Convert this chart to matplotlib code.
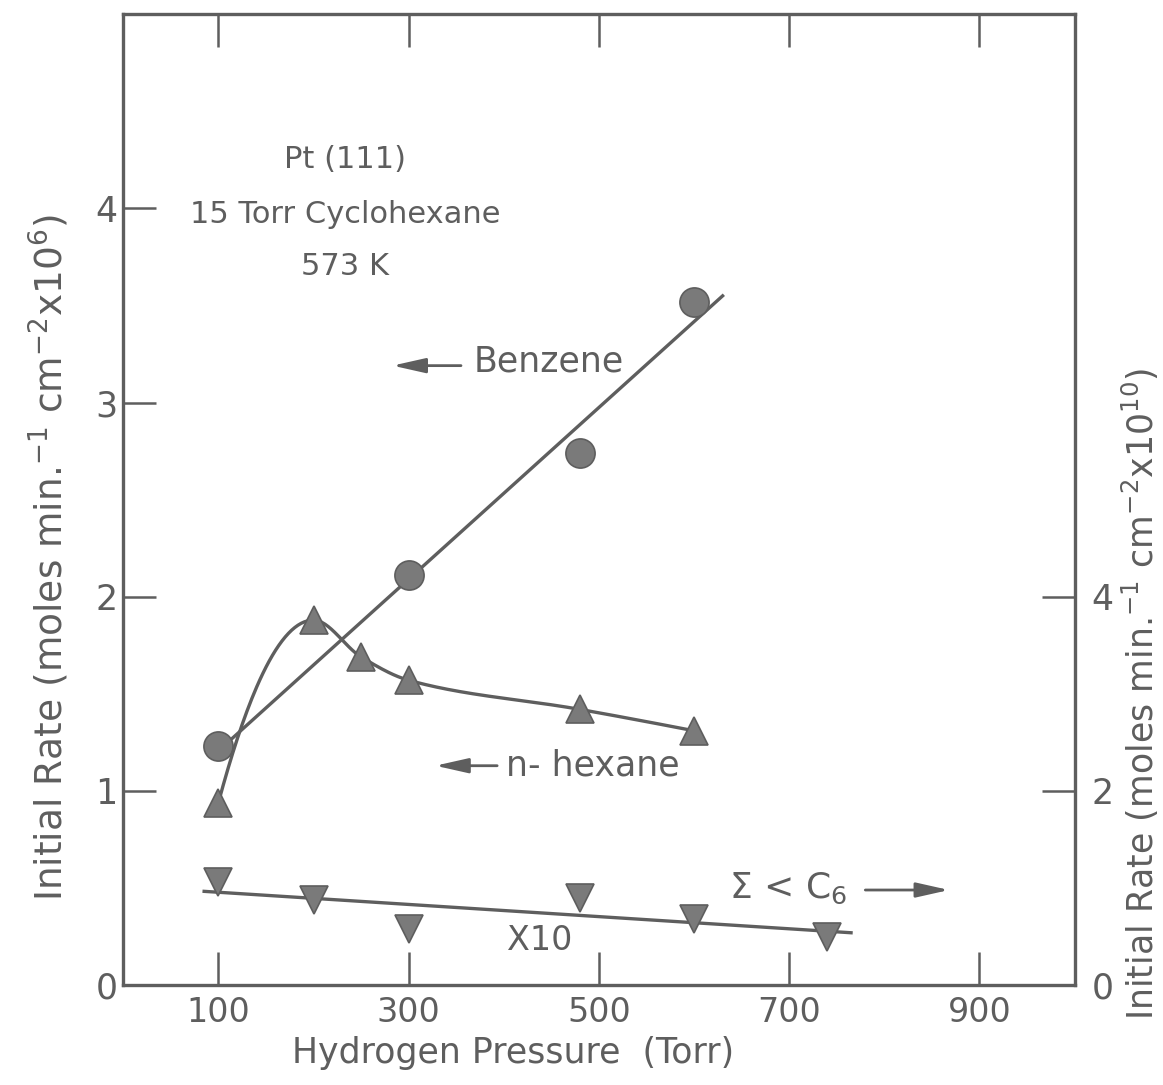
import numpy as np
import matplotlib.pyplot as plt

# ==========================================
# Data
# ==========================================
benzene_p = [100, 300, 480, 600]
benzene_rate = [1.23, 2.11, 2.74, 3.52]

hexane_p = [100, 200, 250, 300, 480, 600]
hexane_rate = [0.94, 1.88, 1.69, 1.57, 1.42, 1.31]

c6_p = [100, 200, 300, 480, 600, 740]
c6_rate = [0.53, 0.44, 0.29, 0.45, 0.34, 0.25]   # plotted on left scale (x10 series)

x_ticks = [100, 300, 500, 700, 900]
left_ticks = [0, 1, 2, 3, 4]
right_ticks = [0, 2, 4]

INK = '#5e5e5e'
FILL = '#7a7a7a'
plt.rcParams['font.family'] = ['DejaVu Sans']
plt.rcParams['mathtext.default'] = 'regular'


def pchip(x, y, xs):
    # monotone cubic through the measured points (smooth hand-drawn curve)
    x = np.asarray(x, float)
    y = np.asarray(y, float)
    h = np.diff(x)
    d = np.diff(y) / h
    m = np.zeros_like(y)
    for k in range(1, len(x) - 1):
        if d[k - 1] * d[k] > 0:
            w1 = 2 * h[k] + h[k - 1]
            w2 = h[k] + 2 * h[k - 1]
            m[k] = (w1 + w2) / (w1 / d[k - 1] + w2 / d[k])
    m[0] = ((2 * h[0] + h[1]) * d[0] - h[0] * d[1]) / (h[0] + h[1])
    m[-1] = ((2 * h[-1] + h[-2]) * d[-1] - h[-1] * d[-2]) / (h[-1] + h[-2])
    idx = np.clip(np.searchsorted(x, xs) - 1, 0, len(x) - 2)
    t = (xs - x[idx]) / h[idx]
    h00 = 2 * t**3 - 3 * t**2 + 1
    h10 = t**3 - 2 * t**2 + t
    h01 = -2 * t**3 + 3 * t**2
    h11 = t**3 - t**2
    return h00 * y[idx] + h10 * h[idx] * m[idx] + h01 * y[idx + 1] + h11 * h[idx] * m[idx + 1]


fig = plt.figure(figsize=(11.63, 10.85), dpi=100)
ax = fig.add_axes([0.106, 0.092, 0.818, 0.895])

# ==========================================
# Curves
# ==========================================
# Benzene: straight least-squares line
bz_fit = np.polyfit(benzene_p, benzene_rate, 1)
bz_x = np.linspace(benzene_p[0], 630, 50)
ax.plot(bz_x, np.polyval(bz_fit, bz_x), color=INK, lw=2.4)
ax.plot(benzene_p, benzene_rate, 'o', ms=21, color=FILL, mec=INK, mew=1.2)

# n-hexane: smooth curve through points
hx_x = np.linspace(hexane_p[0], hexane_p[-1], 300)
ax.plot(hx_x, pchip(hexane_p, hexane_rate, hx_x), color=INK, lw=2.4)
ax.plot(hexane_p, hexane_rate, '^', ms=20, color=FILL, mec=INK, mew=1.2)

# sum < C6 (x10): straight line
c6_fit = np.polyfit(c6_p, c6_rate, 1)
c6_x = np.linspace(85, 765, 50)
ax.plot(c6_x, np.polyval(c6_fit, c6_x), color=INK, lw=2.4)
ax.plot(c6_p, c6_rate, 'v', ms=20, color=FILL, mec=INK, mew=1.2)

# ==========================================
# Axes
# ==========================================
ax.set_xlim(0, 1000)
ax.set_ylim(0, 5)
ax.set_xticks(x_ticks)
ax.set_yticks(left_ticks)
ax.set_yticklabels([str(v) for v in left_ticks])
ax.tick_params(axis='x', direction='in', length=24, width=1.8, colors=INK,
               labelsize=24, pad=8, top=True, labeltop=False)
ax.tick_params(axis='y', direction='in', length=24, width=1.8, colors=INK,
               labelsize=25, pad=4)
for s in ax.spines.values():
    s.set_color(INK)
    s.set_linewidth(2.4)

ax2 = ax.twinx()
ax2.set_ylim(0, 10)
ax2.set_yticks(right_ticks)
ax2.tick_params(axis='y', direction='in', length=24, width=1.8, colors=INK,
                labelsize=25, pad=12)
for s in ax2.spines.values():
    s.set_visible(False)

ax.set_xlabel('Hydrogen Pressure  (Torr)', fontsize=25, color=INK)
ax.xaxis.set_label_coords(0.41, -0.052)
ax.set_ylabel('Initial Rate (moles min.$^{-1}$ cm$^{-2}$x10$^{6}$)', fontsize=27, color=INK)
ax.yaxis.set_label_coords(-0.055, 0.44)
ax2.set_ylabel('Initial Rate (moles min.$^{-1}$ cm$^{-2}$x10$^{10}$)', fontsize=25, color=INK)
ax2.yaxis.set_label_coords(1.048, 0.30)

# ==========================================
# Annotations
# ==========================================
txt = dict(fontsize=22, color=INK, ha='center', va='center')
ax.text(233, 4.25, 'Pt (111)', **txt)
ax.text(233, 3.97, '15 Torr Cyclohexane', **txt)
ax.text(233, 3.70, '573 K', **txt)

arrow = dict(arrowstyle='-|>,head_length=2.0,head_width=0.45', color=INK, lw=2,
             shrinkA=0, shrinkB=0)
ax.annotate('', xy=(283, 3.19), xytext=(355, 3.19), arrowprops=arrow)
ax.text(368, 3.21, 'Benzene', fontsize=25, color=INK, ha='left', va='center')

ax.annotate('', xy=(328, 1.13), xytext=(393, 1.13), arrowprops=arrow)
ax.text(402, 1.13, 'n- hexane', fontsize=25, color=INK, ha='left', va='center')

ax.text(637, 0.50, r'$\Sigma$ < C$_6$', fontsize=26, color=INK, ha='left', va='center')
ax.annotate('', xy=(868, 0.49), xytext=(780, 0.49), arrowprops=arrow)
ax.text(438, 0.23, 'X10', fontsize=24, color=INK, ha='center', va='center')

fig.savefig('out.png', dpi=100)
